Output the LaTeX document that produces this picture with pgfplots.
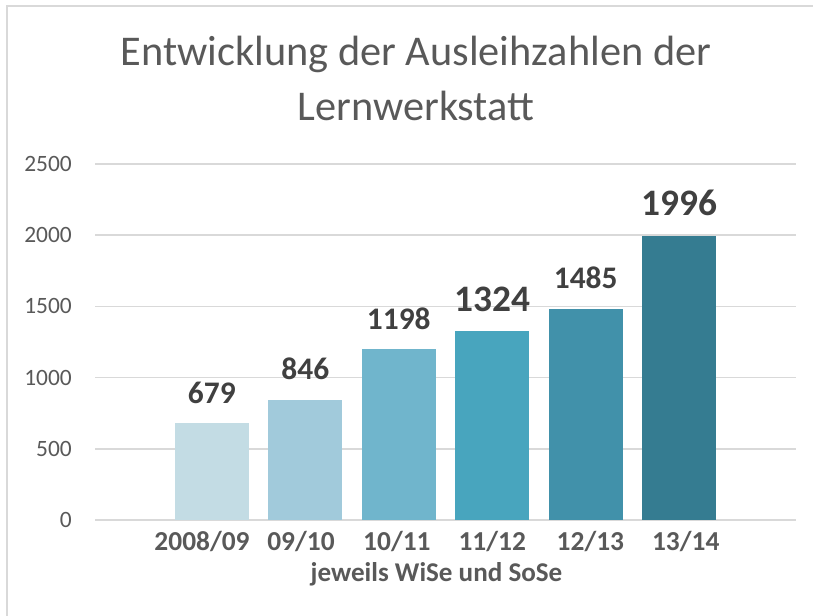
\documentclass[border=0pt]{standalone}
\usepackage{pgfplots}
\pgfplotsset{compat=1.18}
\usepackage{fontspec}
\setmainfont{Carlito}
\definecolor{txt}{HTML}{595959}
\definecolor{lbl}{HTML}{404040}
\definecolor{gridc}{HTML}{D9D9D9}
\definecolor{c1}{HTML}{C3DCE4}
\definecolor{c2}{HTML}{A1CADB}
\definecolor{c3}{HTML}{70B5CC}
\definecolor{c4}{HTML}{48A5BE}
\definecolor{c5}{HTML}{4191AA}
\definecolor{c6}{HTML}{357C91}
\begin{document}
\begin{tikzpicture}[x=1bp,y=1bp]
\path[use as bounding box] (0,0) rectangle (813,616);
\draw[gridc, line width=1.5bp] (7,0) -- (7,610) -- (813,610);
\node[anchor=base, text=txt, font=\fontsize{42.5}{48}\selectfont, inner sep=0pt] at (416,550) {Entwicklung der Ausleihzahlen der};
\node[anchor=base, text=txt, font=\fontsize{42.5}{48}\selectfont, inner sep=0pt] at (416,495) {Lernwerkstatt};
\begin{axis}[
  at={(95bp,96bp)}, anchor=south west,
  scale only axis, width=701bp, height=356bp,
  xmin=-1.25, xmax=6.25, ymin=0, ymax=2500,
  axis line style={draw=none},
  major tick length=0pt,
  ymajorgrids, grid style={gridc, line width=1.5bp},
  ytick={0,500,1000,1500,2000,2500},
  yticklabels={0,500,1000,1500,2000,2500},
  xtick={-0.105,0.954,1.98,3.0,4.05,5.07},
  xticklabels={2008/09,09/10,10/11,11/12,12/13,13/14},
  yticklabel style={anchor=east, inner sep=0pt, xshift=-23bp, font=\fontsize{23.5}{28}\selectfont, text=txt},
  xticklabel style={anchor=base, inner sep=0pt, yshift=-30.7bp, font=\fontsize{27.5}{32}\selectfont\bfseries, text=txt},
  xlabel={jeweils WiSe und SoSe},
  xlabel style={at={(axis description cs:0.5,0)}, anchor=base, inner sep=0pt, yshift=-61.7bp, xshift=-9bp, font=\fontsize{27.2}{32}\selectfont\bfseries, text=txt},
  ybar, bar width=74bp, bar shift=0pt,
  nodes near coords,
  /pgf/number format/1000 sep={},
  /pgf/number format/assume math mode=true,
  every node near coord/.append style={anchor=base, inner sep=0pt, yshift=20bp, text=lbl, font=\fontsize{31.5}{36}\selectfont\bfseries},
  clip=false,
]
\addplot[fill=c1, draw=none] coordinates {(0,679)};
\addplot[fill=c2, draw=none] coordinates {(1,846)};
\addplot[fill=c3, draw=none] coordinates {(2,1198)};
\addplot[fill=c4, draw=none, every node near coord/.append style={font=\fontsize{37.5}{42}\selectfont\bfseries}] coordinates {(3,1324)};
\addplot[fill=c5, draw=none] coordinates {(4,1485)};
\addplot[fill=c6, draw=none, every node near coord/.append style={font=\fontsize{37.5}{42}\selectfont\bfseries}] coordinates {(5,1996)};
\end{axis}
\end{tikzpicture}
\end{document}
